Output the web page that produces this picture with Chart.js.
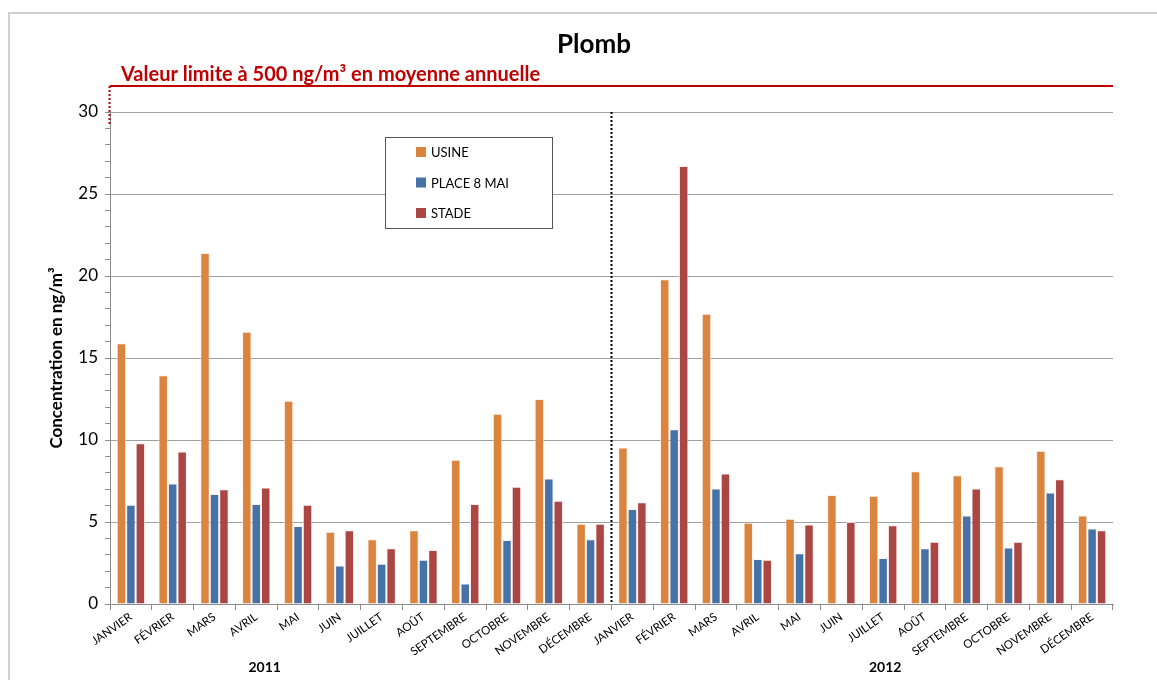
<!DOCTYPE html>
<html>
<head>
<meta charset="utf-8">
<script src="https://cdn.jsdelivr.net/npm/chart.js@4"></script>
<style>
  html, body { margin: 0; padding: 0; background: #fff; }
  #wrap { width: 1157px; height: 680px; position: relative; }
</style>
</head>
<body>
<div id="wrap"><canvas id="plomb" width="1157" height="680"></canvas></div>
<script>
// categories
const months = ["JANVIER", "FÉVRIER", "MARS", "AVRIL", "MAI", "JUIN", "JUILLET", "AOÛT", "SEPTEMBRE", "OCTOBRE", "NOVEMBRE", "DÉCEMBRE"];
const categories = months.concat(months);
const years = ["2011", "2012"];

// series (ng/m3), 2011 then 2012
const usine = [15.9, 13.95, 21.4, 16.6, 12.4, 4.4, 3.95, 4.5, 8.8, 11.6, 12.5, 4.9,
               9.55, 19.8, 17.7, 4.95, 5.2, 6.65, 6.6, 8.1, 7.85, 8.4, 9.35, 5.4];
const place8mai = [6.05, 7.35, 6.7, 6.1, 4.75, 2.35, 2.45, 2.7, 1.25, 3.9, 7.65, 3.95,
                   5.8, 10.65, 7.05, 2.75, 3.1, null, 2.8, 3.4, 5.4, 3.45, 6.8, 4.6];
const stade = [9.8, 9.3, 7.0, 7.1, 6.05, 4.5, 3.4, 3.3, 6.1, 7.15, 6.3, 4.9,
               6.2, 26.7, 7.95, 2.7, 4.85, 5.0, 4.8, 3.8, 7.05, 3.8, 7.6, 4.5];

const yTicks = [0, 5, 10, 15, 20, 25, 30];
const limitLabel = "Valeur limite à 500 ng/m³ en moyenne annuelle";

const FONT = "Lato, 'Open Sans', sans-serif";
const colors = ["#DB843D", "#4572A7", "#AA4643"];

// extra drawing: frame, title, limit line, legend box, separators, year labels
const decor = {
  id: "decor",
  afterDraw(chart) {
    const ctx = chart.ctx;
    const a = chart.chartArea;
    const x = chart.scales.x;
    ctx.save();

    // outer frame (left + top)
    ctx.strokeStyle = "#d0d0d0";
    ctx.lineWidth = 2;
    ctx.beginPath();
    ctx.moveTo(9, 700); ctx.lineTo(9, 13); ctx.lineTo(1200, 13);
    ctx.stroke();

    // title
    ctx.fillStyle = "#000";
    ctx.font = "bold 26px " + FONT;
    ctx.textAlign = "center";
    ctx.textBaseline = "middle";
    ctx.fillText("Plomb", 594, 45);

    // limit line
    ctx.strokeStyle = "#C00000";
    ctx.lineWidth = 2;
    ctx.beginPath();
    ctx.moveTo(a.left, 86); ctx.lineTo(a.right, 86);
    ctx.stroke();
    ctx.setLineDash([2, 2]);
    ctx.beginPath();
    ctx.moveTo(a.left - 0.5, 86); ctx.lineTo(a.left - 0.5, 126);
    ctx.stroke();
    ctx.setLineDash([]);
    ctx.fillStyle = "#C00000";
    ctx.font = "bold 20px " + FONT;
    ctx.textAlign = "left";
    ctx.textBaseline = "alphabetic";
    ctx.fillText(limitLabel, 121, 81);

    // year separator
    const sep = (x.getPixelForValue(11) + x.getPixelForValue(12)) / 2;
    ctx.strokeStyle = "#000";
    ctx.lineWidth = 2;
    ctx.setLineDash([2, 2]);
    ctx.beginPath();
    ctx.moveTo(sep, a.top); ctx.lineTo(sep, a.bottom);
    ctx.stroke();
    ctx.setLineDash([]);

    // y axis title
    ctx.save();
    ctx.translate(57, (a.top + a.bottom) / 2);
    ctx.rotate(-Math.PI / 2);
    ctx.fillStyle = "#000";
    ctx.font = "bold 17px " + FONT;
    ctx.textAlign = "center";
    ctx.textBaseline = "middle";
    ctx.fillText("Concentration en ng/m³", 0, 0);
    ctx.restore();

    // year labels
    ctx.fillStyle = "#000";
    ctx.font = "bold 14px " + FONT;
    ctx.textAlign = "center";
    ctx.textBaseline = "middle";
    ctx.fillText(years[0], x.getPixelForValue(3.2), 667);
    ctx.fillText(years[1], x.getPixelForValue(18.05), 667);

    // legend box
    ctx.fillStyle = "#fff";
    ctx.fillRect(385, 137, 167, 91);
    ctx.strokeStyle = "#555";
    ctx.lineWidth = 1;
    ctx.strokeRect(385.5, 137.5, 167, 91);
    ctx.font = "13px " + FONT;
    ctx.textAlign = "left";
    chart.data.datasets.forEach((ds, i) => {
      const cy = 152 + i * 30.5;
      ctx.fillStyle = ds.backgroundColor;
      ctx.fillRect(416, cy - 5, 10, 10);
      ctx.fillStyle = "#000";
      ctx.fillText(ds.label, 431, cy + 1);
    });

    ctx.restore();
  }
};

new Chart(document.getElementById("plomb"), {
  type: "bar",
  data: {
    labels: categories,
    datasets: [
      { label: "USINE", data: usine, backgroundColor: colors[0] },
      { label: "PLACE 8 MAI", data: place8mai, backgroundColor: colors[1] },
      { label: "STADE", data: stade, backgroundColor: colors[2] }
    ]
  },
  options: {
    responsive: false,
    animation: false,
    layout: { padding: { left: 0, right: 44, top: 112, bottom: 0 } },
    datasets: {
      bar: {
        categoryPercentage: 0.68,
        barPercentage: 1.0,
        borderColor: "rgba(255,235,235,0.7)",
        borderWidth: 1
      }
    },
    plugins: {
      legend: { display: false },
      title: { display: false },
      tooltip: { enabled: false }
    },
    scales: {
      x: {
        afterFit: s => { s.height = 76; },
        grid: {
          offset: true,
          drawOnChartArea: false,
          tickLength: 6,
          tickColor: "#8c8c8c"
        },
        border: { color: "#8c8c8c" },
        ticks: {
          minRotation: 35,
          maxRotation: 35,
          autoSkip: false,
          color: "#000",
          font: { family: FONT, size: 11.5 },
          padding: 0
        }
      },
      y: {
        min: 0,
        max: 30,
        afterFit: s => { s.width = 110; },
        grid: {
          color: c => (c.tick && yTicks.includes(c.tick.value)) ? "#a0a0a0" : "rgba(0,0,0,0)",
          tickColor: "#8c8c8c",
          tickLength: 5
        },
        border: { color: "#8c8c8c" },
        ticks: {
          stepSize: 1,
          autoSkip: false,
          color: "#000",
          padding: 7,
          font: { family: FONT, size: 17 },
          callback: v => yTicks.includes(v) ? String(v) : ""
        }
      }
    }
  },
  plugins: [decor]
});
</script>
</body>
</html>
